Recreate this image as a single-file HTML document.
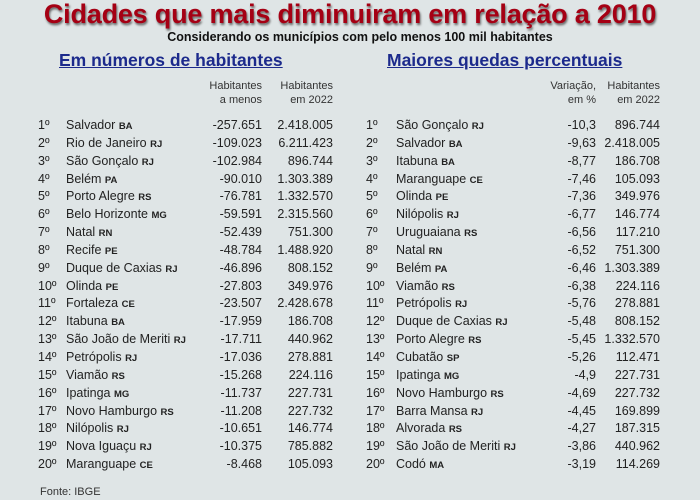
<!DOCTYPE html>
<html><head><meta charset="utf-8"><style>
body{margin:0;width:700px;height:500px;background:#dfe5e6;font-family:"Liberation Sans",sans-serif;position:relative;overflow:hidden}
.t{position:absolute;left:0;width:700px;text-align:center;top:-1px;font-size:27px;font-weight:bold;color:#a50014;text-shadow:1px 2px 2px #666;letter-spacing:-0.2px}
.s{position:absolute;left:0;width:720px;text-align:center;top:30px;font-size:12.5px;font-weight:bold;color:#111}
.h{position:absolute;top:50px;font-size:17.5px;font-weight:bold;color:#1c2a8c;text-decoration:underline}
.ch{position:absolute;top:79px;font-size:11px;color:#333;text-align:right;line-height:14px}
.tb{position:absolute;top:117px;font-size:12.5px;color:#222}
.row{display:flex;height:17.85px;line-height:17.85px;white-space:nowrap}
.row span{display:block;overflow:visible}
.L .row span:nth-child(1){width:28px}.L .row span:nth-child(2){width:134px}.L .row span:nth-child(3){width:62px;text-align:right}.L .row span:nth-child(4){width:71px;text-align:right}
.R .row span:nth-child(1){width:30px}.R .row span:nth-child(2){width:144px}.R .row span:nth-child(3){width:56px;text-align:right}.R .row span:nth-child(4){width:64px;text-align:right}
b{font-size:9.5px;font-weight:bold}
.f{position:absolute;left:40px;top:486px;font-size:11px;color:#333}
</style></head><body>
<div class="t">Cidades que mais diminuiram em relação a 2010</div>
<div class="s">Considerando os municípios com pelo menos 100 mil habitantes</div>
<div class="h" style="left:59px">Em números de habitantes</div>
<div class="h" style="left:387px">Maiores quedas percentuais</div>
<div class="ch" style="left:190px;width:72px">Habitantes<br>a menos</div>
<div class="ch" style="left:260px;width:73px">Habitantes<br>em 2022</div>
<div class="ch" style="left:530px;width:66px">Variação,<br>em %</div>
<div class="ch" style="left:590px;width:70px">Habitantes<br>em 2022</div>
<div class="tb L" style="left:38px">
<div class="row"><span>1º</span><span>Salvador <b>BA</b></span><span>-257.651</span><span>2.418.005</span></div>
<div class="row"><span>2º</span><span>Rio de Janeiro <b>RJ</b></span><span>-109.023</span><span>6.211.423</span></div>
<div class="row"><span>3º</span><span>São Gonçalo <b>RJ</b></span><span>-102.984</span><span>896.744</span></div>
<div class="row"><span>4º</span><span>Belém <b>PA</b></span><span>-90.010</span><span>1.303.389</span></div>
<div class="row"><span>5º</span><span>Porto Alegre <b>RS</b></span><span>-76.781</span><span>1.332.570</span></div>
<div class="row"><span>6º</span><span>Belo Horizonte <b>MG</b></span><span>-59.591</span><span>2.315.560</span></div>
<div class="row"><span>7º</span><span>Natal <b>RN</b></span><span>-52.439</span><span>751.300</span></div>
<div class="row"><span>8º</span><span>Recife <b>PE</b></span><span>-48.784</span><span>1.488.920</span></div>
<div class="row"><span>9º</span><span>Duque de Caxias <b>RJ</b></span><span>-46.896</span><span>808.152</span></div>
<div class="row"><span>10º</span><span>Olinda <b>PE</b></span><span>-27.803</span><span>349.976</span></div>
<div class="row"><span>11º</span><span>Fortaleza <b>CE</b></span><span>-23.507</span><span>2.428.678</span></div>
<div class="row"><span>12º</span><span>Itabuna <b>BA</b></span><span>-17.959</span><span>186.708</span></div>
<div class="row"><span>13º</span><span>São João de Meriti <b>RJ</b></span><span>-17.711</span><span>440.962</span></div>
<div class="row"><span>14º</span><span>Petrópolis <b>RJ</b></span><span>-17.036</span><span>278.881</span></div>
<div class="row"><span>15º</span><span>Viamão <b>RS</b></span><span>-15.268</span><span>224.116</span></div>
<div class="row"><span>16º</span><span>Ipatinga <b>MG</b></span><span>-11.737</span><span>227.731</span></div>
<div class="row"><span>17º</span><span>Novo Hamburgo <b>RS</b></span><span>-11.208</span><span>227.732</span></div>
<div class="row"><span>18º</span><span>Nilópolis <b>RJ</b></span><span>-10.651</span><span>146.774</span></div>
<div class="row"><span>19º</span><span>Nova Iguaçu <b>RJ</b></span><span>-10.375</span><span>785.882</span></div>
<div class="row"><span>20º</span><span>Maranguape <b>CE</b></span><span>-8.468</span><span>105.093</span></div>
</div>
<div class="tb R" style="left:366px">
<div class="row"><span>1º</span><span>São Gonçalo <b>RJ</b></span><span>-10,3</span><span>896.744</span></div>
<div class="row"><span>2º</span><span>Salvador <b>BA</b></span><span>-9,63</span><span>2.418.005</span></div>
<div class="row"><span>3º</span><span>Itabuna <b>BA</b></span><span>-8,77</span><span>186.708</span></div>
<div class="row"><span>4º</span><span>Maranguape <b>CE</b></span><span>-7,46</span><span>105.093</span></div>
<div class="row"><span>5º</span><span>Olinda <b>PE</b></span><span>-7,36</span><span>349.976</span></div>
<div class="row"><span>6º</span><span>Nilópolis <b>RJ</b></span><span>-6,77</span><span>146.774</span></div>
<div class="row"><span>7º</span><span>Uruguaiana <b>RS</b></span><span>-6,56</span><span>117.210</span></div>
<div class="row"><span>8º</span><span>Natal <b>RN</b></span><span>-6,52</span><span>751.300</span></div>
<div class="row"><span>9º</span><span>Belém <b>PA</b></span><span>-6,46</span><span>1.303.389</span></div>
<div class="row"><span>10º</span><span>Viamão <b>RS</b></span><span>-6,38</span><span>224.116</span></div>
<div class="row"><span>11º</span><span>Petrópolis <b>RJ</b></span><span>-5,76</span><span>278.881</span></div>
<div class="row"><span>12º</span><span>Duque de Caxias <b>RJ</b></span><span>-5,48</span><span>808.152</span></div>
<div class="row"><span>13º</span><span>Porto Alegre <b>RS</b></span><span>-5,45</span><span>1.332.570</span></div>
<div class="row"><span>14º</span><span>Cubatão <b>SP</b></span><span>-5,26</span><span>112.471</span></div>
<div class="row"><span>15º</span><span>Ipatinga <b>MG</b></span><span>-4,9</span><span>227.731</span></div>
<div class="row"><span>16º</span><span>Novo Hamburgo <b>RS</b></span><span>-4,69</span><span>227.732</span></div>
<div class="row"><span>17º</span><span>Barra Mansa <b>RJ</b></span><span>-4,45</span><span>169.899</span></div>
<div class="row"><span>18º</span><span>Alvorada <b>RS</b></span><span>-4,27</span><span>187.315</span></div>
<div class="row"><span>19º</span><span>São João de Meriti <b>RJ</b></span><span>-3,86</span><span>440.962</span></div>
<div class="row"><span>20º</span><span>Codó <b>MA</b></span><span>-3,19</span><span>114.269</span></div>
</div>
<div class="f">Fonte: IBGE</div>
</body></html>
